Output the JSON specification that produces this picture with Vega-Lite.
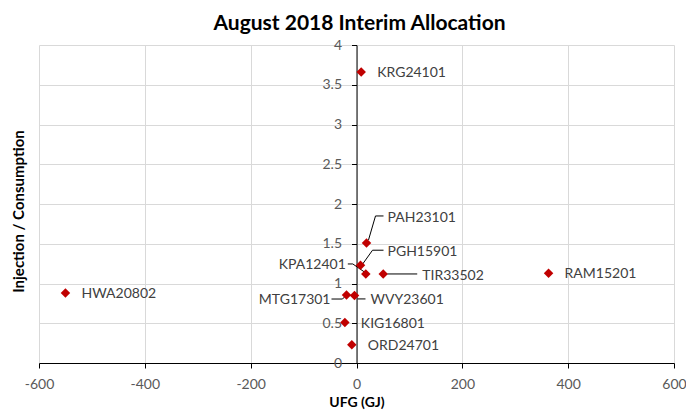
{
  "$schema": "https://vega.github.io/schema/vega-lite/v6.json",
  "width": 635,
  "height": 318,
  "autosize": {"type": "none"},
  "padding": {"left": 39, "top": 45, "right": 12, "bottom": 47},
  "background": "#ffffff",
  "config": {"view": {"stroke": null}, "font": "Lato"},
  "title": {"text": "August 2018 Interim Allocation", "font": "Lato", "fontSize": 21, "fontWeight": "bold", "color": "#000000", "anchor": "middle", "frame": "group", "baseline": "bottom", "offset": 12, "dx": 3, "dy": 29},
  "data": {"values": [
    {"id": "KRG24101", "ufg": 8.9, "ratio": 3.66},
    {"id": "HWA20802", "ufg": -550, "ratio": 0.88},
    {"id": "RAM15201", "ufg": 363, "ratio": 1.13},
    {"id": "PAH23101", "ufg": 18.9, "ratio": 1.51},
    {"id": "PGH15901", "ufg": 7.6, "ratio": 1.23},
    {"id": "KPA12401", "ufg": 17.6, "ratio": 1.12},
    {"id": "TIR33502", "ufg": 50.5, "ratio": 1.12},
    {"id": "MTG17301", "ufg": -18.9, "ratio": 0.855},
    {"id": "WVY23601", "ufg": -3.8, "ratio": 0.85},
    {"id": "KIG16801", "ufg": -22, "ratio": 0.51},
    {"id": "ORD24701", "ufg": -8.9, "ratio": 0.23}
  ]},
  "encoding": {
    "x": {"field": "ufg", "type": "quantitative",
      "scale": {"domain": [-600, 600], "nice": false, "zero": false},
      "axis": {"values": [-600, -400, -200, 0, 200, 400, 600], "labelExpr": "'' + datum.value",
        "title": "UFG (GJ)", "titleFont": "Lato", "titleFontSize": 14, "titleFontWeight": "bold", "titleColor": "#000000", "titlePadding": 4,
        "grid": true, "gridColor": "#d9d9d9", "gridWidth": 1,
        "domainColor": "#000000", "domainWidth": 1, "tickColor": "#000000", "tickSize": 5, "tickWidth": 1,
        "labelFont": "Lato", "labelFontSize": 14, "labelColor": "#595959", "labelPadding": 9, "labelFlush": false, "labelOverlap": false}},
    "y": {"field": "ratio", "type": "quantitative",
      "scale": {"domain": [0, 4], "nice": false},
      "axis": {"values": [0, 0.5, 1, 1.5, 2, 2.5, 3, 3.5, 4], "labelExpr": "'' + datum.value", "offset": -317.5,
        "title": "Injection / Consumption", "titleFont": "Lato", "titleFontSize": 15, "titleFontWeight": "bold", "titleColor": "#000000",
        "titleX": -338, "titleY": 166, "titleAngle": -90, "titleBaseline": "middle", "titleAlign": "center",
        "grid": true, "gridColor": "#d9d9d9", "gridWidth": 1,
        "domainColor": "#000000", "domainWidth": 1, "tickColor": "#000000", "tickSize": 5, "tickWidth": 1,
        "labelFont": "Lato", "labelFontSize": 14, "labelColor": "#595959", "labelPadding": 10, "labelFlush": false, "labelOverlap": false}}
  },
  "layer": [
    {"transform": [{"filter": {"field": "id", "equal": "PAH23101"}}],
     "mark": {"type": "rule", "color": "#000000", "strokeWidth": 1, "xOffset": 2, "yOffset": -3, "x2Offset": 9, "y2Offset": -27},
     "encoding": {"x2": {"field": "ufg"}, "y2": {"field": "ratio"}}},
    {"transform": [{"filter": {"field": "id", "equal": "PAH23101"}}],
     "mark": {"type": "rule", "color": "#000000", "strokeWidth": 1, "xOffset": 9, "yOffset": -27, "x2Offset": 17, "y2Offset": -27},
     "encoding": {"x2": {"field": "ufg"}, "y2": {"field": "ratio"}}},
    {"transform": [{"filter": {"field": "id", "equal": "PGH15901"}}],
     "mark": {"type": "rule", "color": "#000000", "strokeWidth": 1, "xOffset": 2, "yOffset": -1, "x2Offset": 12, "y2Offset": -15},
     "encoding": {"x2": {"field": "ufg"}, "y2": {"field": "ratio"}}},
    {"transform": [{"filter": {"field": "id", "equal": "PGH15901"}}],
     "mark": {"type": "rule", "color": "#000000", "strokeWidth": 1, "xOffset": 12, "yOffset": -15, "x2Offset": 23, "y2Offset": -15},
     "encoding": {"x2": {"field": "ufg"}, "y2": {"field": "ratio"}}},
    {"transform": [{"filter": {"field": "id", "equal": "KPA12401"}}],
     "mark": {"type": "rule", "color": "#000000", "strokeWidth": 1, "xOffset": -18, "yOffset": -10, "x2Offset": -13, "y2Offset": -10},
     "encoding": {"x2": {"field": "ufg"}, "y2": {"field": "ratio"}}},
    {"transform": [{"filter": {"field": "id", "equal": "KPA12401"}}],
     "mark": {"type": "rule", "color": "#000000", "strokeWidth": 1, "xOffset": -13, "yOffset": -10, "x2Offset": 0, "y2Offset": -1},
     "encoding": {"x2": {"field": "ufg"}, "y2": {"field": "ratio"}}},
    {"transform": [{"filter": {"field": "id", "equal": "TIR33502"}}],
     "mark": {"type": "rule", "color": "#000000", "strokeWidth": 1, "xOffset": 4, "yOffset": 0, "x2Offset": 34, "y2Offset": 0},
     "encoding": {"x2": {"field": "ufg"}, "y2": {"field": "ratio"}}},
    {"transform": [{"filter": {"field": "id", "equal": "MTG17301"}}],
     "mark": {"type": "rule", "color": "#000000", "strokeWidth": 1, "xOffset": -15, "yOffset": 4, "x2Offset": -4, "y2Offset": 4},
     "encoding": {"x2": {"field": "ufg"}, "y2": {"field": "ratio"}}},
    {"transform": [{"filter": {"field": "id", "equal": "MTG17301"}}],
     "mark": {"type": "rule", "color": "#000000", "strokeWidth": 1, "xOffset": -4, "yOffset": 4, "x2Offset": -1, "y2Offset": 1},
     "encoding": {"x2": {"field": "ufg"}, "y2": {"field": "ratio"}}},
    {"transform": [{"filter": {"field": "id", "equal": "WVY23601"}}],
     "mark": {"type": "rule", "color": "#000000", "strokeWidth": 1, "xOffset": 3, "yOffset": 3.5, "x2Offset": 11, "y2Offset": 3.5},
     "encoding": {"x2": {"field": "ufg"}, "y2": {"field": "ratio"}}},
    {"mark": {"type": "point", "shape": "diamond", "filled": true, "color": "#C00000", "size": 90, "opacity": 1}},
    {"transform": [{"filter": {"field": "id", "oneOf": ["KRG24101", "HWA20802", "RAM15201", "ORD24701"]}}],
     "mark": {"type": "text", "align": "left", "baseline": "middle", "dx": 16, "dy": 1, "font": "Lato", "fontSize": 14, "color": "#404040"},
     "encoding": {"text": {"field": "id"}}},
    {"transform": [{"filter": {"field": "id", "equal": "KIG16801"}}],
     "mark": {"type": "text", "align": "left", "baseline": "middle", "dx": 16, "dy": 2, "font": "Lato", "fontSize": 14, "color": "#404040"},
     "encoding": {"text": {"field": "id"}}},
    {"transform": [{"filter": {"field": "id", "equal": "PAH23101"}}],
     "mark": {"type": "text", "align": "left", "baseline": "middle", "dx": 21, "dy": -25, "font": "Lato", "fontSize": 14, "color": "#404040"},
     "encoding": {"text": {"field": "id"}}},
    {"transform": [{"filter": {"field": "id", "equal": "PGH15901"}}],
     "mark": {"type": "text", "align": "left", "baseline": "middle", "dx": 27, "dy": -13, "font": "Lato", "fontSize": 14, "color": "#404040"},
     "encoding": {"text": {"field": "id"}}},
    {"transform": [{"filter": {"field": "id", "equal": "KPA12401"}}],
     "mark": {"type": "text", "align": "right", "baseline": "middle", "dx": -20, "dy": -9, "font": "Lato", "fontSize": 14, "color": "#404040"},
     "encoding": {"text": {"field": "id"}}},
    {"transform": [{"filter": {"field": "id", "equal": "TIR33502"}}],
     "mark": {"type": "text", "align": "left", "baseline": "middle", "dx": 39, "dy": 2, "font": "Lato", "fontSize": 14, "color": "#404040"},
     "encoding": {"text": {"field": "id"}}},
    {"transform": [{"filter": {"field": "id", "equal": "MTG17301"}}],
     "mark": {"type": "text", "align": "right", "baseline": "middle", "dx": -16, "dy": 5, "font": "Lato", "fontSize": 14, "color": "#404040"},
     "encoding": {"text": {"field": "id"}}},
    {"transform": [{"filter": {"field": "id", "equal": "WVY23601"}}],
     "mark": {"type": "text", "align": "left", "baseline": "middle", "dx": 16, "dy": 5, "font": "Lato", "fontSize": 14, "color": "#404040"},
     "encoding": {"text": {"field": "id"}}}
  ]
}
